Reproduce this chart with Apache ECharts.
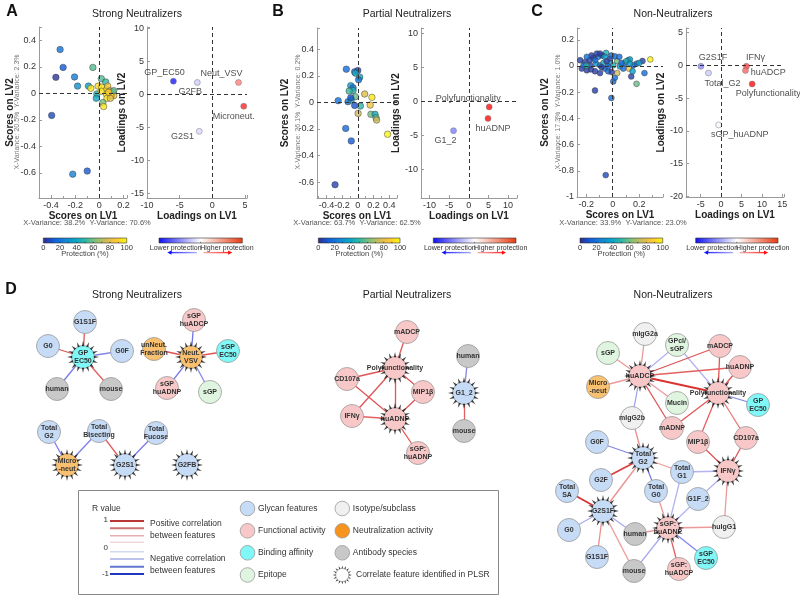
<!DOCTYPE html>
<html><head><meta charset="utf-8">
<script src="https://cdn.jsdelivr.net/npm/echarts@6/dist/echarts.min.js"></script>
<style>html,body{margin:0;padding:0;background:#fff}#c{width:800px;height:599px}</style>
</head><body><div id="c"></div>
<script>
// ---------------- DATA ----------------
// PLSR scores: [LV1, LV2, protection %]
const aScores = [[-0.325,0.33,20],[-0.30,0.195,12],[-0.36,0.12,3],[-0.205,0.123,22],[-0.18,0.054,30],[-0.053,0.195,55],[-0.09,0.054,35],[-0.07,0.038,95],[0.017,0.11,55],[0.053,0.085,50],[-0.01,0.054,92],[-0.02,-0.005,45],[-0.025,-0.038,40],[0.02,0.046,95],[0.06,0.028,95],[0.07,0.054,85],[0.09,0.018,75],[0.115,0.008,85],[0.12,-0.018,85],[0.097,-0.018,92],[0.058,-0.005,95],[0.017,0.015,95],[0.064,-0.038,95],[0.092,-0.038,80],[0.03,-0.07,60],[0.036,-0.1,95],[0.12,0.02,55],[0.078,0.008,88],[-0.395,-0.167,8],[-0.22,-0.61,25],[-0.10,-0.587,12]];
const bScores = [[-0.146,0.25,18],[-0.04,0.23,18],[0,0.24,8],[-0.03,0.22,42],[0.025,0.19,40],[0.01,0.17,22],[-0.09,0.126,32],[-0.06,0.11,20],[-0.06,0.09,45],[-0.11,0.085,52],[-0.03,0.043,58],[-0.25,0.013,20],[-0.125,0.005,20],[-0.083,0.018,40],[-0.09,0.035,10],[-0.04,-0.023,10],[0.033,-0.028,50],[0.004,-0.083,75],[0.088,0.063,78],[0.18,0.038,95],[0.158,-0.02,85],[0.167,-0.09,60],[0.22,-0.09,42],[0.233,-0.116,55],[0.24,-0.133,75],[0.38,-0.24,98],[-0.154,-0.196,18],[-0.083,-0.29,12],[-0.29,-0.62,6]];
const cScores = [[0.284,0.05,98],[0.225,0.038,5],[0.24,-0.054,18],[0.18,-0.136,58],[0.14,-0.08,5],[-0.134,-0.187,5],[-0.01,-0.244,18],[0.004,-0.118,18],[0.016,-0.09,18],[0.034,-0.054,75],[0.124,-0.02,85],[0.15,-0.04,35],[0.117,0.044,35],[0.13,0.05,35],[0.18,0.018,18],[0.2,0.023,35],[0.087,0.018,18],[0.10,0.036,45],[0.034,0.038,58],[-0.02,0.056,5],[-0.05,0.1,45],[-0.08,0.08,5],[-0.11,0.07,18],[-0.146,0.064,5],[-0.176,0.044,5],[-0.246,0.044,5],[-0.234,-0.02,5],[-0.196,-0.033,5],[-0.164,-0.026,5],[-0.134,-0.04,5],[-0.096,-0.054,5],[-0.06,-0.02,18],[-0.034,-0.04,18],[-0.008,-0.046,5],[-0.126,0.018,35],[-0.096,0.005,18],[-0.07,0.023,45],[-0.17,0.005,5],[-0.21,0.03,5],[-0.134,0.044,18],[-0.12,0.095,5],[-0.096,0.095,5],[-0.06,0.07,35],[-0.01,0.08,18],[0.016,0.074,18],[0.05,0.07,18],[-0.02,0.018,35],[0.004,0.005,45],[0.054,-0.003,35],[0.067,0.023,18],[-0.046,0.036,5],[-0.16,0.08,5],[-0.196,0.07,18],[-0.22,0.005,18],[-0.2,0.003,45],[-0.084,-0.008,5],[-0.034,-0.003,18],[0.08,-0.02,18],[0.155,0.005,18],[0.13,0.018,35],[-0.053,-0.833,8]];
// PLSR loadings: [feature, LV1, LV2, direction (-1 lower .. +1 higher protection)]
const aLoadings = [["GP_EC50",-5.96,2.0,-0.9],["G2FB",-2.3,1.8,-0.2],["Neut_VSV",4.0,1.8,0.5],["Microneut.",4.8,-1.8,0.85],["G2S1",-2.0,-5.6,-0.15]];
const bLoadings = [["G1_2",-3.9,-4.3,-0.5],["Polyfunctionality",5.2,-0.8,0.95],["huADNP",4.9,-2.5,0.95]];
const cLoadings = [["G2S1F",-4.95,-0.15,-0.45],["Total_G2",-3.1,-1.17,-0.2],["IFNγ",6.2,-0.15,0.75],["huADCP",5.96,-0.77,0.6],["Polyfunctionality",7.6,-2.85,0.95],["sGP_huADNP",-0.6,-9.1,-0.03]];
// tick labels / variance text
const protTicks = [0,20,40,60,80,100];
const varText = {A:["X-Variance: 20.5%  Y-Variance: 2.3%","X-Variance: 38.2%  Y-Variance: 70.6%"],B:["X-Variance: 26.1%  Y-Variance: 0.2%","X-Variance: 63.7%  Y-Variance: 62.5%"],C:["X-Variance: 17.3%  Y-Variance: 1.0%","X-Variance: 33.9%  Y-Variance: 23.0%"]};
// network node categories
const nodeCats = ["Glycan features","Functional activity","Binding affinity","Epitope","Isotype/subclass","Neutralization activity","Antibody species"];
// network nodes: [id, display label, layout x, layout y, category, PLSR correlate(1/0)]
const strongNodes = [["GP EC50","GP\nEC50",83,77,2,1],["G1S1F","G1S1F",85,42,0,0],["G0","G0",48,66,0,0],["G0F","G0F",122,71,0,0],["human","human",57,109,6,0],["mouse","mouse",111,109,6,0],
 ["Neut. VSV","Neut.\nVSV",191,77,5,1],["sGP huADCP","sGP\nhuADCP",194,40,1,0],["unNeut. Fraction","unNeut.\nFraction",154,69,5,0],["sGP EC50","sGP\nEC50",228,71,2,0],["sGP huADNP","sGP\nhuADNP",167,108,1,0],["sGP","sGP",210,112,3,0],
 ["Total G2","Total\nG2",49,152,0,0],["Total Bisecting","Total\nBisecting",99,151,0,0],["Total Fucose","Total\nFucose",156,153,0,0],["Micro-neut","Micro\n-neut",67,185,5,1],["G2S1","G2S1",125,185,0,1],["G2FB","G2FB",187,185,0,1]];
const strongEdges = [["G1S1F","GP EC50",0.75],["G0","GP EC50",0.75],["G0F","GP EC50",-0.6],["human","GP EC50",-0.65],["mouse","GP EC50",0.7],["sGP huADCP","Neut. VSV",-0.7],["unNeut. Fraction","Neut. VSV",0.75],["sGP EC50","Neut. VSV",0.75],["sGP huADNP","Neut. VSV",-0.65],["sGP","Neut. VSV",-0.6],["Total G2","Micro-neut",-0.65],["Total Bisecting","Micro-neut",-0.65],["Total Bisecting","G2S1",0.7],["Total Fucose","G2S1",-0.65]];
const partialNodes = [["Polyfunctionality","Polyfunctionality",395,88,1,1],["mADCP","mADCP",407,52,1,0],["CD107a","CD107a",347,99,1,0],["MIP1β","MIP1β",423,112,1,0],["IFNγ","IFNγ",352,136,1,0],["huADNP","huADNP",395,139,1,1],["sGP: huADNP","sGP:\nhuADNP",418,173,1,0],["human","human",468,76,6,0],["G1_2","G1_2",464,113,0,1],["mouse","mouse",464,151,6,0]];
const partialEdges = [["mADCP","Polyfunctionality",0.75],["CD107a","Polyfunctionality",0.75],["CD107a","huADNP",0.75],["IFNγ","Polyfunctionality",0.75],["IFNγ","huADNP",0.7],["MIP1β","Polyfunctionality",0.75],["MIP1β","huADNP",0.75],["Polyfunctionality","huADNP",0.75],["sGP: huADNP","huADNP",0.75],["human","G1_2",-0.6],["mouse","G1_2",0.7]];
const nonNodes = [["mIgG2a","mIgG2a",645,54,4,0],["sGP","sGP",608,73,3,0],["GPcl/sGP","GPcl/\nsGP",677,65,3,0],["mADCP","mADCP",720,66,1,0],["huADNP","huADNP",740,87,1,0],["huADCP","huADCP",640,96,1,1],["Micro-neut","Micro\n-neut",598,107,5,0],["Polyfunctionality","Polyfunctionality",718,113,1,1],["GP EC50","GP\nEC50",758,125,2,0],["Mucin","Mucin",677,123,3,0],["mIgG2b","mIgG2b",632,138,4,0],["mADNP","mADNP",672,148,1,0],
 ["MIP1β","MIP1β",698,162,1,0],["CD107a","CD107a",746,158,1,0],["G0F","G0F",597,162,0,0],["Total G2","Total\nG2",643,178,0,1],["G2F","G2F",601,200,0,0],["Total G1","Total\nG1",682,192,0,0],["IFNγ","IFNγ",728,191,1,1],["Total SA","Total\nSA",567,211,0,0],["Total G0","Total\nG0",656,211,0,0],["G1F_2","G1F_2",698,219,0,0],["G2S1F","G2S1F",603,231,0,1],["G0","G0",569,250,0,0],["human","human",635,254,6,0],["sGP: huADNP","sGP:\nhuADNP",668,248,1,1],["huIgG1","huIgG1",724,247,4,0],["G1S1F","G1S1F",597,277,0,0],["mouse","mouse",634,291,6,0],["sGP: huADCP","sGP:\nhuADCP",679,289,1,0],["sGP EC50","sGP\nEC50",706,278,2,0]];
const nonEdges = [["mIgG2a","huADCP",0.45],["sGP","huADCP",0.45],["GPcl/sGP","huADCP",-0.35],["GPcl/sGP","Polyfunctionality",-0.35],["mADCP","huADCP",0.75],["mADCP","Polyfunctionality",0.75],["huADNP","huADCP",0.7],["huADNP","Polyfunctionality",0.75],["Micro-neut","huADCP",0.45],["huADCP","Polyfunctionality",0.9],["Mucin","huADCP",0.45],["mIgG2b","huADCP",-0.45],["mADNP","huADCP",0.75],["mADNP","Polyfunctionality",0.75],["GP EC50","Polyfunctionality",-0.6],["MIP1β","Polyfunctionality",0.7],["CD107a","Polyfunctionality",0.6],["MIP1β","IFNγ",0.75],["CD107a","IFNγ",0.75],["mIgG2b","Total G2",0.5],["G0F","Total G2",-0.6],["G2F","Total G2",0.85],["Total G0","Total G2",-0.65],["Total G1","Total G2",0.45],["G2S1F","Total G2",0.5],["Total G1","IFNγ",-0.35],["Total G1","sGP: huADNP",-0.35],["G1F_2","IFNγ",-0.35],["G1F_2","sGP: huADNP",-0.35],["Total G0","sGP: huADNP",0.45],["huIgG1","IFNγ",0.45],["Total SA","G2S1F",0.9],["G0","G2S1F",-0.4],["G1S1F","G2S1F",0.5],["human","G2S1F",-0.4],["mouse","G2S1F",0.45],["human","sGP: huADNP",0.45],["mouse","sGP: huADNP",-0.4],["huIgG1","sGP: huADNP",0.45],["sGP: huADCP","sGP: huADNP",0.7],["sGP EC50","sGP: huADNP",-0.6]];
const rLegend = [1,0.7,0.4,0.2,-0.2,-0.4,-0.7,-1];

// ---------------- STYLE ----------------
const FONT = "'Liberation Sans', Arial, sans-serif";
const parula = ['#352a87','#0f5cdd','#1481d6','#06a4ca','#2eb7a4','#87bf77','#d1bb59','#fec832','#f9fb0e'];
const catColors = ['#c6dbf5','#f8c8c8','#80f8f8','#e0f5e0','#f0f0f0','#f9c070','#c8c8c8'];
function mix(c1,c2,t){const a=[1,3,5].map(i=>parseInt(c1.substr(i,2),16)),b=[1,3,5].map(i=>parseInt(c2.substr(i,2),16));return 'rgb('+a.map((v,i)=>Math.round(v+(b[i]-v)*t)).join(',')+')';}
function rColor(r){return r>=0?mix('#ffffff','#d82020',Math.min(1,Math.abs(r)*1.02)):mix('#ffffff','#3030d8',Math.min(1,0.05+Math.abs(r)*0.9));}
function legColor(r){return r>=0?mix('#ffffff','#b83838',Math.abs(r)):mix('#ffffff','#2038c0',Math.abs(r));}

const sunPath = (function(){let n=16,p='';const pt=(r,t)=>[(50+r*Math.cos(t)).toFixed(2),(50+r*Math.sin(t)).toFixed(2)];
 for(let i=0;i<n;i++){const a=i*2*Math.PI/n,d=Math.PI/n*0.55;const b1=pt(34,a-d),t=pt(50,a),b2=pt(34,a+d);p+='M'+b1[0]+' '+b1[1]+'L'+t[0]+' '+t[1]+'L'+b2[0]+' '+b2[1]+'Z';}return p;})();

function fmtStep(step){return v=>{const k=v/step;if(Math.abs(k-Math.round(k))>1e-6)return '';return String(parseFloat((Math.round(k)*step).toFixed(3)));};}
function axis(gi,min,max,step,split,name,nameGap,minor){
 return {type:'value',gridIndex:gi,min:min,max:max,splitNumber:split,
  axisLine:{show:true,onZero:false,lineStyle:{color:'#9a9a9a',width:1}},
  axisTick:{show:true,inside:true,length:3,lineStyle:{color:'#9a9a9a'}},
  minorTick:{show:!!minor,splitNumber:2,length:2,lineStyle:{color:'#9a9a9a'}},
  splitLine:{show:false},minorSplitLine:{show:false},
  axisLabel:{fontSize:9,color:'#333',margin:3,fontFamily:FONT,formatter:fmtStep(step)},
  name:name,nameLocation:'middle',nameGap:nameGap,nameTextStyle:{fontWeight:'bold',fontSize:10,color:'#222',fontFamily:FONT}};
}
const grids = [
 {left:39,top:27,width:88,height:171},{left:147,top:27,width:100,height:171},
 {left:317,top:28,width:80,height:170},{left:421,top:28,width:96,height:170},
 {left:577,top:28,width:86,height:169},{left:686,top:28,width:98,height:169},
 {left:0,top:280,width:800,height:319}
];
const xAxes = [axis(0,-0.5,0.23,0.2,4,'Scores on LV1',11,true),axis(1,-10,5.3,5,3,'Loadings on LV1',11),
 axis(2,-0.52,0.5,0.2,5,'Scores on LV1',11,true),axis(3,-12.2,12.3,5,5,'Loadings on LV1',11),
 axis(4,-0.27,0.38,0.2,3,'Scores on LV1',11,true),axis(5,-8.6,15.4,5,5,'Loadings on LV1',11),
 {type:'value',gridIndex:6,min:0,max:800,show:false}];
const yAxes = [axis(0,-0.79,0.5,0.2,6,'Scores on LV2',24),axis(1,-15.7,10.2,5,5,'Loadings on LV2',12),
 axis(2,-0.72,0.56,0.2,6,'Scores on LV2',27),axis(3,-14.2,10.8,5,5,'Loadings on LV2',10),
 axis(4,-1.0,0.29,0.2,6,'Scores on LV2',27),axis(5,-20.1,5.7,5,5,'Loadings on LV2',15),
 {type:'value',gridIndex:6,min:0,max:319,inverse:true,show:false}];

const zeroLine = {silent:true,symbol:['none','none'],label:{show:false},lineStyle:{color:'#333',type:[4,3],width:1},data:[{xAxis:0},{yAxis:0}]};
const labelPos = {
 'A':{"GP_EC50":['top',[-9,1]],"G2FB":['bottom',[-7,-1]],"Neut_VSV":['top',[-17,1]],"Microneut.":['bottom',[-10,0]],"G2S1":['left',[0,5]]},
 'B':{"G1_2":['bottom',[-8,0]],"Polyfunctionality":['top',[-21,1]],"huADNP":['bottom',[5,0]]},
 'C':{"G2S1F":['top',[12,1]],"Total_G2":['bottom',[14,1]],"IFNγ":['top',[9,1]],"huADCP":['right',[0,2]],"Polyfunctionality":['bottom',[16,0]],"sGP_huADNP":['bottom',[21,0]]}
};
function scoreSeries(gi,data,size){return {type:'scatter',xAxisIndex:gi,yAxisIndex:gi,data:data,symbolSize:size,itemStyle:{borderColor:'#3a3a3a',borderWidth:0.6},markLine:zeroLine,z:3};}
function loadSeries(gi,data,key){return {type:'scatter',xAxisIndex:gi,yAxisIndex:gi,symbolSize:6,itemStyle:{borderColor:'#777',borderWidth:0.6},markLine:zeroLine,z:3,
 data:data.map(d=>{const lp=labelPos[key][d[0]];return {name:d[0],value:[d[1],d[2],d[3]],label:{show:true,position:lp[0],offset:lp[1],distance:2,formatter:'{b}',fontSize:9,color:'#222',fontFamily:FONT}};})};}
function netSeries(nodes,edges){return {type:'graph',layout:'none',coordinateSystem:'cartesian2d',xAxisIndex:6,yAxisIndex:6,symbolSize:23,z:2,
 categories:nodeCats.map((n,i)=>({name:n,itemStyle:{color:catColors[i]}})),
 data:nodes.map(n=>({name:n[0],disp:n[1],value:[n[2],n[3]],category:n[4]})),
 links:edges.map(e=>({source:e[0],target:e[1],lineStyle:{color:rColor(e[2]),width:Math.abs(e[2])>0.8?1.8:1.3,opacity:1}})),
 itemStyle:{borderColor:'#9a9a9a',borderWidth:0.8},
 label:{show:true,position:'inside',formatter:p=>p.data.disp,fontSize:7,fontWeight:'bold',color:'#333',lineHeight:8,fontFamily:FONT},
 emphasis:{disabled:true}};}
const plsrPts = [].concat(strongNodes,partialNodes,nonNodes).filter(n=>n[5]).map(n=>[n[2],n[3]]);

// ---------------- GRAPHICS (titles, colorbars, legend) ----------------
const G = [];
function txt(x,y,s,o){o=o||{};G.push({type:'text',x:x,y:y,rotation:o.rot||0,silent:true,z:10,style:{text:s,fill:o.fill||'#222',font:(o.weight||'normal')+' '+(o.size||10)+'px '+FONT,textAlign:o.align||'center',textVerticalAlign:'middle'}});}
[['A',12,12],['B',278,12],['C',537,12],['D',11,290]].forEach(l=>txt(l[1],l[2],l[0],{size:16,weight:'bold',fill:'#111'}));
txt(137,14,'Strong Neutralizers',{size:10.5});txt(407,14,'Partial Neutralizers',{size:10.5});txt(673,14,'Non-Neutralizers',{size:10.5});
txt(137,295,'Strong Neutralizers',{size:10.5});txt(407,295,'Partial Neutralizers',{size:10.5});txt(673,295,'Non-Neutralizers',{size:10.5});
[['A',17,87],['B',298,357],['C',558,623]].forEach(v=>{txt(v[1],112,varText[v[0]][0],{size:7,fill:'#777',rot:Math.PI/2});txt(v[2],223,varText[v[0]][1],{size:7.5,fill:'#555'});});
function cbar(x,w){
 G.push({type:'rect',silent:true,shape:{x:x,y:238,width:w,height:5},style:{fill:{type:'linear',x:0,y:0,x2:1,y2:0,colorStops:parula.map((c,i)=>({offset:i/(parula.length-1),color:c}))},stroke:'#333',lineWidth:0.6}});
 for(let t=10;t<100;t+=10)G.push({type:'line',silent:true,shape:{x1:x+w*t/100,y1:243,x2:x+w*t/100,y2:241.8},style:{stroke:'#222',lineWidth:0.6}});
 protTicks.forEach(t=>txt(x+w*t/100,247.8,String(t),{size:7.5,fill:'#333'}));
 txt(x+w/2,253.8,'Protection (%)',{size:7.5,fill:'#444'});
}
function dbar(x,w){
 G.push({type:'rect',silent:true,shape:{x:x,y:238,width:w,height:5},style:{fill:{type:'linear',x:0,y:0,x2:1,y2:0,colorStops:[{offset:0,color:'#1010f0'},{offset:0.5,color:'#ffffff'},{offset:1,color:'#e83a10'}]},stroke:'#333',lineWidth:0.6}});
 G.push({type:'line',silent:true,shape:{x1:x+w/2,y1:243,x2:x+w/2,y2:241.8},style:{stroke:'#222',lineWidth:0.6}});
 txt(x+w*0.2,247.8,'Lower protection',{size:7,fill:'#333'});txt(x+w*0.815,247.8,'Higher protection',{size:7,fill:'#333'});
 const y=252.6;
 G.push({type:'line',silent:true,shape:{x1:x+w*0.455,y1:y,x2:x+w*0.14,y2:y},style:{lineWidth:1.4,stroke:{type:'linear',x:0,y:0,x2:1,y2:0,colorStops:[{offset:0,color:'#2020ff'},{offset:1,color:'#b8b8f8'}]}}});
 G.push({type:'polygon',silent:true,shape:{points:[[x+w*0.1,y],[x+w*0.15,y-2.2],[x+w*0.15,y+2.2]]},style:{fill:'#1010ff'}});
 G.push({type:'line',silent:true,shape:{x1:x+w*0.535,y1:y,x2:x+w*0.84,y2:y},style:{lineWidth:1.4,stroke:{type:'linear',x:0,y:0,x2:1,y2:0,colorStops:[{offset:0,color:'#f8b8b8'},{offset:1,color:'#ff2020'}]}}});
 G.push({type:'polygon',silent:true,shape:{points:[[x+w*0.88,y],[x+w*0.83,y-2.2],[x+w*0.83,y+2.2]]},style:{fill:'#ff1010'}});
}
cbar(43.3,83.4);dbar(159,83.3);cbar(318.3,81.7);dbar(433.3,82.7);cbar(580,82.7);dbar(695.7,82.3);
// legend box
G.push({type:'rect',silent:true,z:1,shape:{x:78.5,y:490.5,width:420,height:104},style:{fill:'#fff',stroke:'#888',lineWidth:1}});
txt(92,508.5,'R value',{size:8.5,align:'left',fill:'#333'});
const ry=[521,528.3,535.7,542.3,551.7,559,566.7,574];
rLegend.forEach((r,i)=>G.push({type:'line',silent:true,z:10,shape:{x1:110,y1:ry[i],x2:144,y2:ry[i]},style:{stroke:legColor(r),lineWidth:Math.abs(r)>0.6?2:1.6}}));
txt(108,519.5,'1',{size:8,align:'right',fill:'#333'});txt(108,547.8,'0',{size:8,align:'right',fill:'#333'});txt(109,574,'-1',{size:8,align:'right',fill:'#333'});
txt(150,524,'Positive correlation',{size:8.5,align:'left',fill:'#333'});txt(150,536,'between features',{size:8.5,align:'left',fill:'#333'});
txt(150,558.5,'Negative correlation',{size:8.5,align:'left',fill:'#333'});txt(150,570.5,'between features',{size:8.5,align:'left',fill:'#333'});
const legCols=[[0,247.5,508.5],[1,247.5,530.8],[2,247.5,552.8],[3,247.5,575],[4,342.3,508.5],[5,342.3,530.8],[6,342.3,552.8]];
legCols.forEach(l=>{const col=l[0]===5?'#f7941d':catColors[l[0]];G.push({type:'circle',silent:true,z:10,shape:{cx:l[1],cy:l[2],r:7.3},style:{fill:col,stroke:'#999',lineWidth:0.8}});txt(l[1]+10.5,l[2],nodeCats[l[0]],{size:8.5,align:'left',fill:'#333'});});
(function(){const cx=342.3,cy=575,n=16;for(let i=0;i<n;i++){const a=i*2*Math.PI/n,d=Math.PI/n*0.55;G.push({type:'polygon',silent:true,z:10,shape:{points:[[cx+6.4*Math.cos(a-d),cy+6.4*Math.sin(a-d)],[cx+9.6*Math.cos(a),cy+9.6*Math.sin(a)],[cx+6.4*Math.cos(a+d),cy+6.4*Math.sin(a+d)]]},style:{fill:'#111'}});}
 G.push({type:'circle',silent:true,z:11,shape:{cx:cx,cy:cy,r:6.6},style:{fill:'#fff',stroke:'#999',lineWidth:0.8}});})();
txt(356,575,'Correlate feature identified in PLSR',{size:8.5,align:'left',fill:'#333'});

// ---------------- CHART ----------------
const chart = echarts.init(document.getElementById('c'),null,{renderer:'canvas'});
chart.setOption({
 animation:false,backgroundColor:'#fff',textStyle:{fontFamily:FONT},
 grid:grids,xAxis:xAxes,yAxis:yAxes,
 visualMap:[{type:'continuous',show:false,min:0,max:100,dimension:2,seriesIndex:[0,2,4],inRange:{color:parula}},
  {type:'continuous',show:false,min:-1,max:1,dimension:2,seriesIndex:[1,3,5],inRange:{color:['#0000ff','#ffffff','#ff0000']}}],
 series:[scoreSeries(0,aScores,6.5),loadSeries(1,aLoadings,'A'),scoreSeries(2,bScores,6.5),loadSeries(3,bLoadings,'B'),scoreSeries(4,cScores,5.8),loadSeries(5,cLoadings,'C'),
  netSeries(strongNodes,strongEdges),netSeries(partialNodes,partialEdges),netSeries(nonNodes,nonEdges),
  {type:'scatter',xAxisIndex:6,yAxisIndex:6,data:plsrPts,symbol:'path://'+sunPath,symbolSize:32,itemStyle:{color:'#111'},z:4,silent:true}],
 graphic:{elements:G}
});
</script></body></html>
